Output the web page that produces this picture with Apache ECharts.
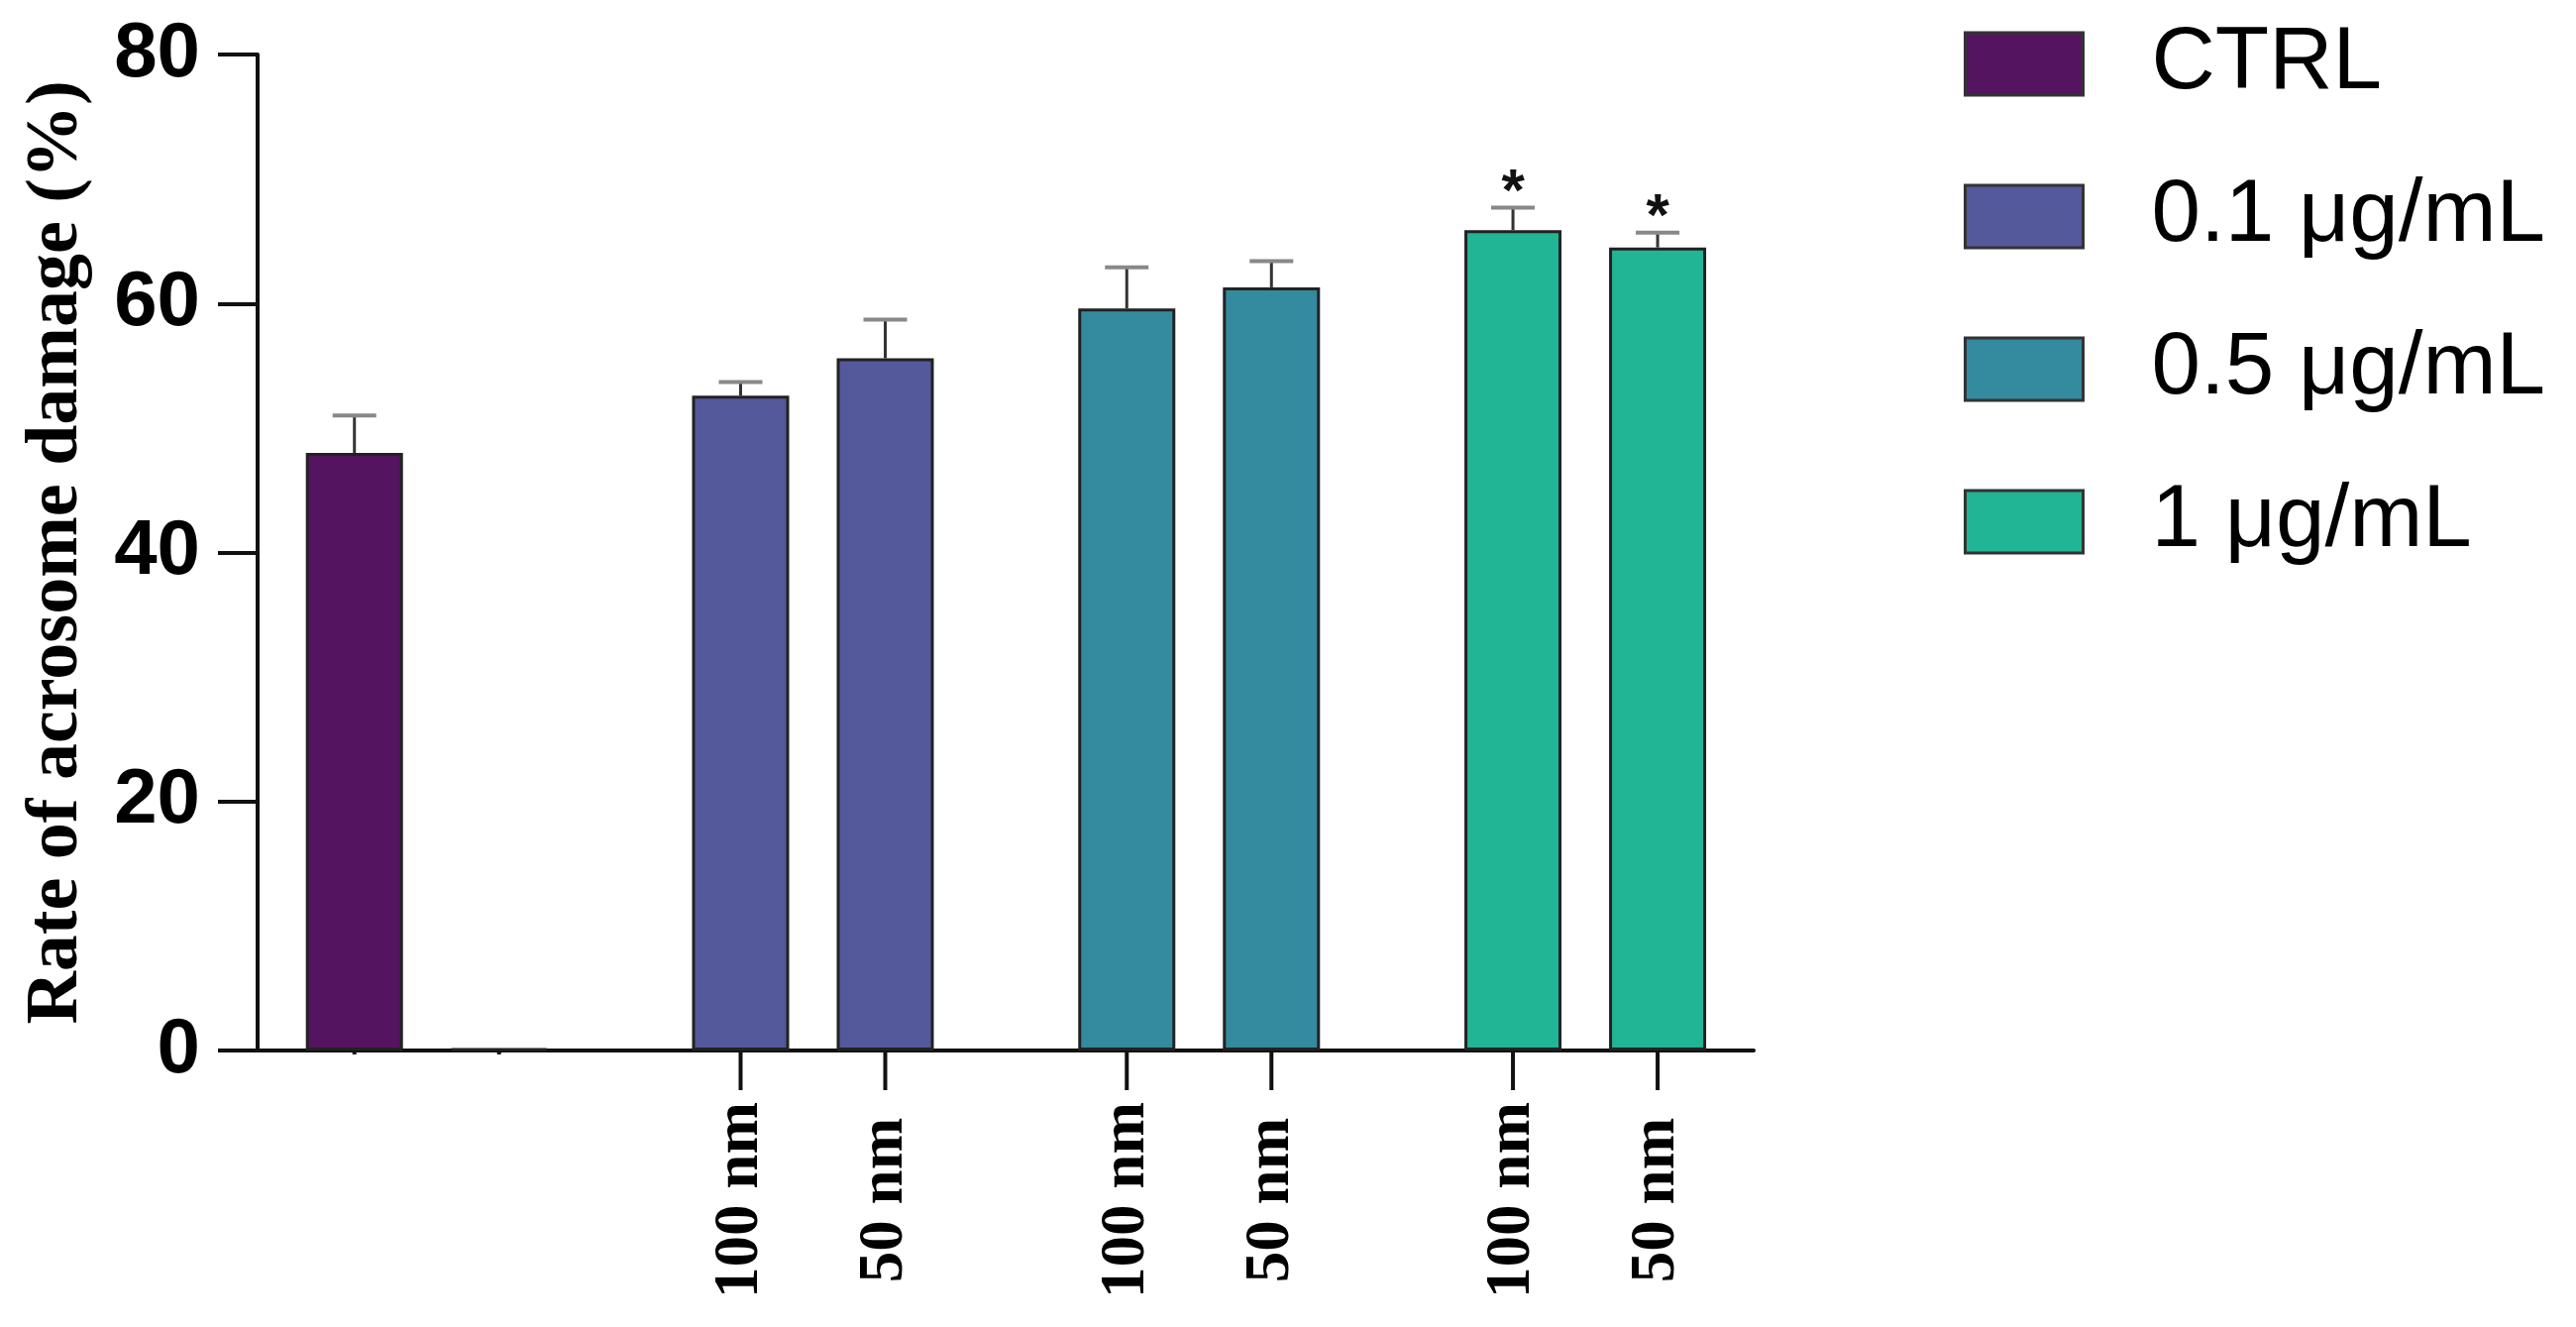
<!DOCTYPE html>
<html>
<head>
<meta charset="utf-8">
<script src="https://cdn.jsdelivr.net/npm/echarts@6/dist/echarts.min.js"></script>
<style>
  html, body { margin: 0; padding: 0; background: #ffffff; }
  #chart { width: 2600px; height: 1339px; }
</style>
</head>
<body>
<div id="chart"></div>
<script>
// ---- data ----
const groups = ['CTRL', '0.1 μg/mL', '0.5 μg/mL', '1 μg/mL'];
const sizeLabels = ['100 nm', '50 nm'];
const val100 = [48.0, 52.6, 59.6, 65.9];
const val50 = [0.15, 55.6, 61.3, 64.5];
const err100 = [3.0, 1.1, 3.3, 1.8];
const err50 = [0, 3.1, 2.1, 1.2];
const sig100 = ['', '', '', '*'];
const sig50 = ['', '', '', '*'];
const showSizeLabels = [false, true, true, true];
const yTicks = [0, 20, 40, 60, 80];
const yTitle = 'Rate of acrosome damage (%)';

// ---- style ----
const colors = ['#55145f', '#53599a', '#348a9f', '#21b495'];
const BAR_W = 98;
const BAR_GAP = 48;
const HALF = (BAR_W + BAR_GAP) / 2;

const chart = echarts.init(document.getElementById('chart'), null, { renderer: 'canvas' });

const markItems = [];
groups.forEach((g, i) => {
  markItems.push({ g: i, p: 0, v: val100[i], e: err100[i], s: sig100[i], lab: showSizeLabels[i] });
  markItems.push({ g: i, p: 1, v: val50[i], e: err50[i], s: sig50[i], lab: showSizeLabels[i] });
});

function renderMarks(params, api) {
  const m = markItems[params.dataIndex];
  const base = api.coord([m.g, 0]);
  const x = base[0] + (m.p === 0 ? -HALF : HALF);
  const y0 = base[1];
  const yv = api.coord([m.g, m.v])[1];
  const ye = api.coord([m.g, m.v + m.e])[1];
  const children = [];
  if (m.e > 0) {
    children.push({ type: 'line', shape: { x1: x, y1: yv, x2: x, y2: ye }, style: { stroke: '#333', lineWidth: 3 } });
    children.push({ type: 'line', shape: { x1: x - 22, y1: ye, x2: x + 22, y2: ye }, style: { stroke: '#888', lineWidth: 4 } });
  }
  if (m.s) {
    children.push({ type: 'text', x: x, y: ye - 14,
      style: { text: m.s, fontSize: 60, fontWeight: 'bold', fontFamily: 'Liberation Sans', fill: '#111', align: 'center', verticalAlign: 'middle' } });
  }
  children.push({ type: 'line', shape: { x1: x, y1: y0, x2: x, y2: y0 + (m.lab ? 40 : 4) }, style: { stroke: '#111', lineWidth: 4 } });
  if (m.lab) {
    children.push({ type: 'text', x: x, y: y0 + 151, rotation: Math.PI / 2,
      style: { text: sizeLabels[m.p], fontSize: 63, fontWeight: 'bold', fontFamily: 'Liberation Serif', fill: '#000', align: 'center', verticalAlign: 'middle' } });
  }
  return { type: 'group', children: children };
}

const option = {
  backgroundColor: '#ffffff',
  animation: false,
  grid: { left: 260, right: 830, top: 55, bottom: 279, containLabel: false },
  legend: {
    orient: 'vertical', left: 1982, top: 20,
    icon: 'rect', itemWidth: 119, itemHeight: 63, itemGap: 65,
    padding: 0,
    itemStyle: { borderColor: '#333', borderWidth: 3, opacity: 1 },
    textStyle: { fontSize: 89, lineHeight: 89, fontFamily: 'Liberation Sans', color: '#000', padding: [0, 0, 0, 64] },
    data: groups
  },
  xAxis: {
    type: 'value', min: -0.438, max: 3.436,
    axisLine: { show: true, onZero: false, lineStyle: { color: '#111', width: 4 } },
    axisTick: { show: false }, axisLabel: { show: false }, splitLine: { show: false }
  },
  yAxis: {
    type: 'value', min: yTicks[0], max: yTicks[yTicks.length - 1], interval: 20,
    name: yTitle, nameLocation: 'middle', nameGap: 165,
    nameTextStyle: { fontFamily: 'Liberation Serif', fontWeight: 'bold', fontSize: 74, color: '#000' },
    axisLine: { show: true, onZero: false, lineStyle: { color: '#111', width: 4 } },
    axisTick: { show: true, length: 40, lineStyle: { color: '#111', width: 4 } },
    axisLabel: { margin: 58, fontSize: 78, fontWeight: 'bold', fontFamily: 'Liberation Sans', color: '#000' },
    splitLine: { show: false }
  },
  series: [
    {
      type: 'bar', name: sizeLabels[0], barWidth: BAR_W, barGap: (BAR_GAP / BAR_W * 100) + '%',
      itemStyle: { borderColor: '#222', borderWidth: 3 },
      data: val100.map((v, i) => ({ value: [i, v], itemStyle: { color: colors[i] } })),
      z: 2
    },
    {
      type: 'bar', name: sizeLabels[1], barWidth: BAR_W,
      itemStyle: { borderColor: '#222', borderWidth: 3 },
      data: val50.map((v, i) => ({ value: [i, v], itemStyle: { color: colors[i] } })),
      z: 2
    },
    {
      type: 'custom', name: 'marks', clip: false, z: 3,
      encode: { x: 0, y: 1 },
      data: markItems.map(m => [m.g, m.v]),
      renderItem: renderMarks
    }
  ].concat(groups.map((g, i) => ({
    type: 'scatter', name: g, data: [], itemStyle: { color: colors[i], opacity: 1 }
  })))
};

chart.setOption(option);
</script>
</body>
</html>
